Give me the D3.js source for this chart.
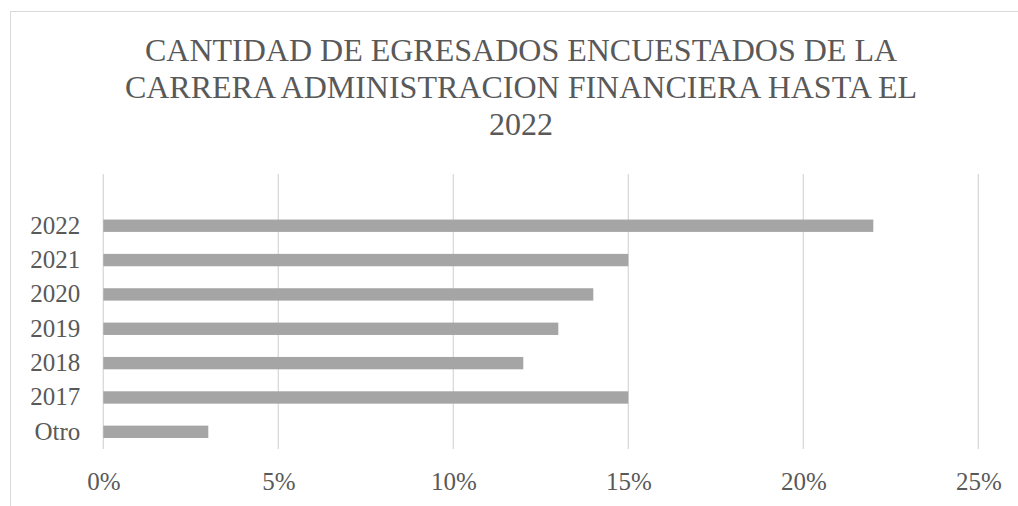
<!DOCTYPE html>
<html>
<head>
<meta charset="utf-8">
<script src="https://cdn.jsdelivr.net/npm/d3@7"></script>
<style>
  body { margin: 0; background: #fff; }
  svg { display: block; font-family: "Liberation Serif", "Times New Roman", serif; }
</style>
</head>
<body>
<div id="chart"></div>
<script>
const categories = ["2022", "2021", "2020", "2019", "2018", "2017", "Otro"];
const values = [0.22, 0.15, 0.14, 0.13, 0.12, 0.15, 0.03];
const xTicks = [0, 0.05, 0.10, 0.15, 0.20, 0.25];
const titleLines = [
  "CANTIDAD DE EGRESADOS ENCUESTADOS DE LA",
  "CARRERA ADMINISTRACION FINANCIERA HASTA EL",
  "2022"
];

const w = 1018, h = 506;
const plotLeft = 103.3, plotRight = 978.3;
const plotTop = 174, plotBottom = 449;
const step = 34.35;

const svg = d3.select("#chart").append("svg")
  .attr("width", w).attr("height", h);

// chart frame (runs off the right and bottom edges)
svg.append("rect")
  .attr("x", 10.5).attr("y", 11.5)
  .attr("width", w + 20).attr("height", h + 20)
  .attr("fill", "#fff")
  .attr("stroke", "#d9d9d9").attr("stroke-width", 1);

svg.append("g").selectAll("text")
  .data(titleLines).enter().append("text")
  .attr("x", 521)
  .attr("y", (d, i) => 61 + i * 37)
  .attr("text-anchor", "middle")
  .attr("font-size", 32)
  .attr("fill", "#595959")
  .text(d => d);

const xScale = d3.scaleLinear().domain([0, 0.25]).range([plotLeft, plotRight]);
const yScale = d3.scaleBand()
  .domain(categories)
  .range([plotBottom - step * categories.length, plotBottom])
  .paddingInner(0.64).paddingOuter(0.32);

// gridlines
svg.append("g").selectAll("line")
  .data(xTicks).enter().append("line")
  .attr("x1", d => xScale(d)).attr("x2", d => xScale(d))
  .attr("y1", plotTop).attr("y2", plotBottom)
  .attr("stroke", "#d9d9d9").attr("stroke-width", 1.3);

svg.append("g").selectAll("rect")
  .data(categories).enter().append("rect")
  .attr("x", xScale(0))
  .attr("y", d => yScale(d))
  .attr("width", (d, i) => xScale(values[i]) - xScale(0))
  .attr("height", yScale.bandwidth())
  .attr("fill", "#a5a5a5");

const xAxis = d3.axisBottom(xScale).tickValues(xTicks)
  .tickFormat(d3.format(".0%")).tickSize(0).tickPadding(0);
svg.append("g")
  .attr("transform", "translate(0," + plotBottom + ")")
  .call(xAxis)
  .call(g => g.select(".domain").remove())
  .call(g => g.selectAll("text")
    .attr("dy", null).attr("y", 41)
    .attr("font-size", 25).attr("fill", "#595959")
    .attr("font-family", "Liberation Serif"));

const yAxis = d3.axisLeft(yScale).tickSize(0).tickPadding(23);
svg.append("g")
  .attr("transform", "translate(" + plotLeft + ",0)")
  .call(yAxis)
  .call(g => g.select(".domain").remove())
  .call(g => g.selectAll("text")
    .attr("font-size", 25).attr("fill", "#595959")
    .attr("font-family", "Liberation Serif"));
</script>
</body>
</html>
